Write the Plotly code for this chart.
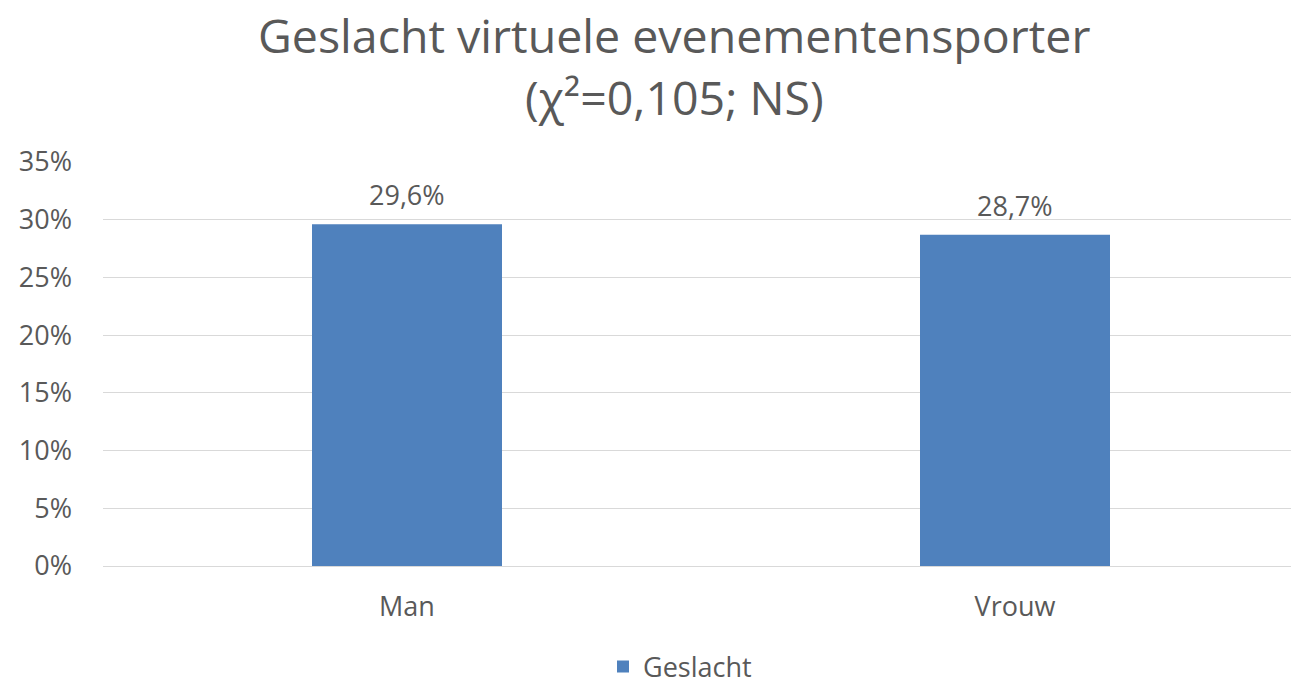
import plotly.graph_objects as go

categories = ["Man", "Vrouw"]
values = [0.296, 0.287]
series_name = "Geslacht"
title_lines = ["Geslacht virtuele evenementensporter", "(χ²=0,105; NS)"]

labels = [f"{v*100:.1f}%".replace(".", ",") for v in values]

FONT = "Open Sans, Noto Sans, sans-serif"
GREY = "#595959"

# page has an 8px body margin; plot area in page px: x 103..1299, y 162..566
PLOT_LEFT, PLOT_RIGHT = 103, 1299
PLOT_BOTTOM, PLOT_H = 566, 404
CAT_W = 608  # px per category in the reference


def px_to_paper_x(px):
    return (px - PLOT_LEFT) / (PLOT_RIGHT - PLOT_LEFT)


fig = go.Figure()
fig.add_trace(go.Bar(
    x=categories, y=values, name=series_name,
    marker=dict(color="#4F81BD", line=dict(width=0)),
    width=0.3125,
    showlegend=True,
))

for c, v, t in zip(categories, values, labels):
    fig.add_annotation(x=c, y=v, text=t, showarrow=False, yanchor="bottom",
                       yshift=9, font=dict(size=27, color=GREY, family=FONT))

for line, py in zip(title_lines, [35, 97]):
    fig.add_annotation(x=px_to_paper_x(674), xref="paper",
                       y=(PLOT_BOTTOM - py) / PLOT_H, yref="paper",
                       xanchor="center", yanchor="middle", showarrow=False,
                       text=line, font=dict(size=46.5, color=GREY, family=FONT))

fig.update_layout(
    width=1291, height=675,
    paper_bgcolor="white", plot_bgcolor="white",
    margin=dict(l=95, r=0, t=154, b=117, autoexpand=False),
    font=dict(family=FONT, color=GREY),
    separators=",.",
    xaxis=dict(showgrid=False, showline=False, ticks="", automargin=False,
               range=[-0.5, -0.5 + (PLOT_RIGHT - PLOT_LEFT) / CAT_W],
               tickfont=dict(size=27, color=GREY), ticklabelstandoff=22),
    yaxis=dict(range=[0, 0.35], dtick=0.05, tickformat=".0%", automargin=False,
               showgrid=True, gridcolor="#D9D9D9", gridwidth=1.3,
               zeroline=True, zerolinecolor="#D9D9D9", zerolinewidth=1.3,
               tickfont=dict(size=27, color=GREY), ticklen=0,
               ticklabelstandoff=30),
    legend=dict(orientation="h", x=px_to_paper_x(680), xanchor="center", y=-0.25,
                yanchor="middle", font=dict(size=27, color=GREY)),
)

fig.write_html("out.html")
